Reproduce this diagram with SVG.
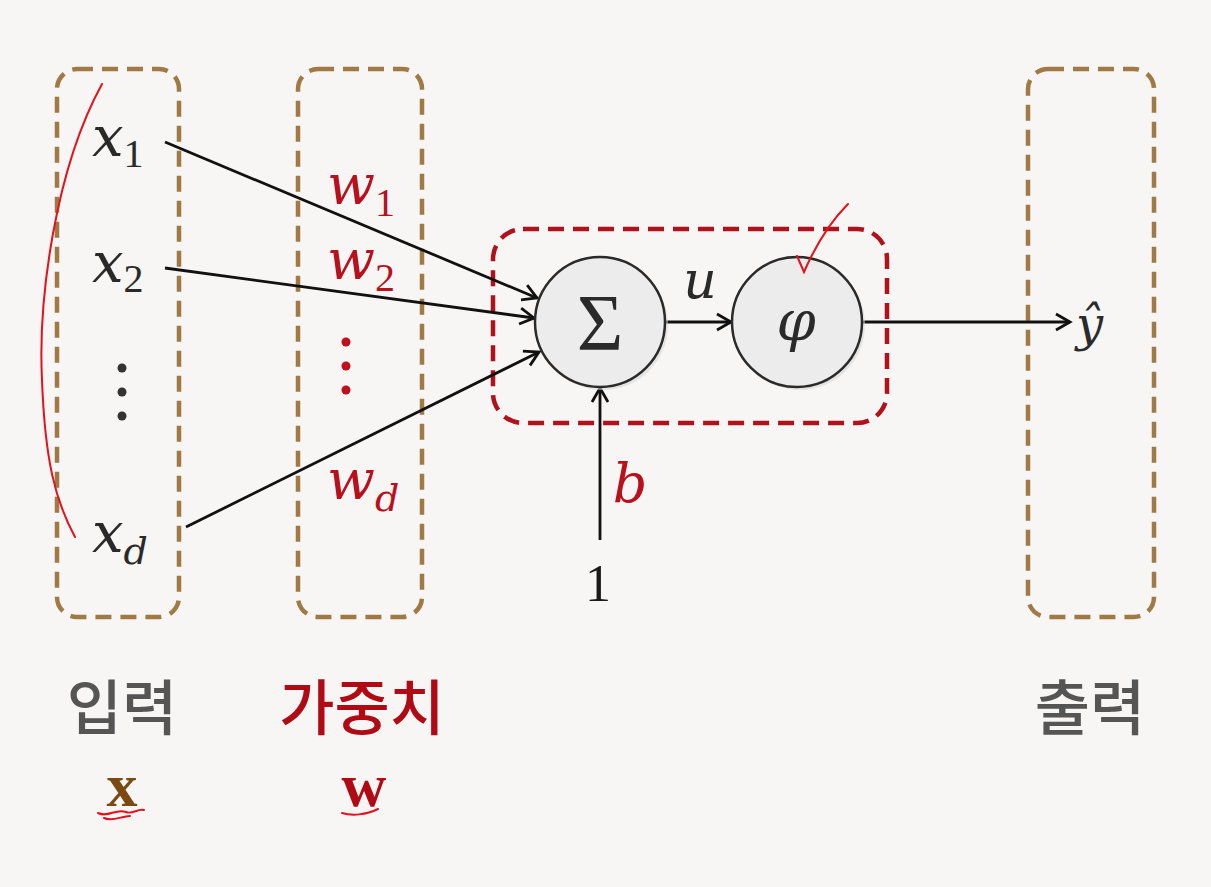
<svg xmlns="http://www.w3.org/2000/svg" width="1211" height="887" viewBox="0 0 1211 887">
<style>
.bg{fill:#f7f6f4}
.box{fill:none;stroke:#a07a45;stroke-width:4.5;stroke-dasharray:16 9}
.rbox{fill:none;stroke:#b0121c;stroke-width:4.5;stroke-dasharray:16 9}
.math{font-family:"DejaVu Serif","Liberation Serif",serif;font-style:italic;fill:#2a2a2a}
.rmath{font-family:"DejaVu Serif","Liberation Serif",serif;font-style:italic;fill:#b8101c}
.num{font-family:"Liberation Serif","DejaVu Serif",serif;font-style:normal}
.edge{stroke:#111;stroke-width:2.8;fill:none}
.node{fill:#ececec;stroke:#2a2a2a;stroke-width:2.5}
.ko{font-family:"Noto Sans CJK KR",sans-serif;font-size:60px;font-weight:500;text-anchor:middle}
.ink{fill:none;stroke:#e4101c;stroke-width:2;stroke-linecap:round}
</style>
<defs>
<marker id="arr" markerUnits="userSpaceOnUse" markerWidth="24" markerHeight="24" refX="18" refY="12" orient="auto" viewBox="0 0 24 24">
<path d="M4,4 L18,12 L4,20" fill="none" stroke="#111" stroke-width="2.8" stroke-linejoin="miter"/>
</marker>
</defs>
<rect class="bg" x="0" y="0" width="1211" height="887"/>

<g id="input-box"><rect class="box" x="57" y="69" width="122" height="548" rx="20"/></g>
<g id="weight-box"><rect class="box" x="298" y="69" width="124" height="548" rx="20"/></g>
<g id="output-box"><rect class="box" x="1028" y="69" width="126" height="548" rx="20"/></g>
<g id="neuron-box"><rect class="rbox" x="493" y="229" width="394" height="194" rx="30"/></g>

<g id="connectors">
<line class="edge" x1="165" y1="142" x2="537" y2="298" marker-end="url(#arr)"/>
<line class="edge" x1="165" y1="268" x2="534" y2="318" marker-end="url(#arr)"/>
<line class="edge" x1="186" y1="527" x2="539" y2="352" marker-end="url(#arr)"/>
<line class="edge" x1="665" y1="322" x2="731" y2="322" marker-end="url(#arr)"/>
<line class="edge" x1="862" y1="322" x2="1070" y2="322" marker-end="url(#arr)"/>
<line class="edge" x1="600" y1="540" x2="600" y2="388" marker-end="url(#arr)"/>
</g>

<g id="sum-node">
<circle cx="603" cy="325" r="65" fill="#d8d8d8" opacity="0.6"/>
<circle class="node" cx="600" cy="322" r="65"/>
<text x="600" y="350" font-family="Liberation Serif,serif" font-size="80" fill="#2a2a2a" text-anchor="middle">Σ</text>
</g>
<g id="phi-node">
<circle cx="800" cy="325" r="65" fill="#d8d8d8" opacity="0.6"/>
<circle class="node" cx="797" cy="322" r="65"/>
<text class="math" x="796" y="340" font-size="56" text-anchor="middle">φ</text>
</g>

<g id="inputs">
<text class="math" x="92" y="156" font-size="56">x<tspan class="num" font-size="40" dy="11">1</tspan></text>
<text class="math" x="92" y="282" font-size="56">x<tspan class="num" font-size="40" dy="10">2</tspan></text>
<circle cx="122" cy="368" r="4.5" fill="#333"/>
<circle cx="122" cy="392" r="4.5" fill="#333"/>
<circle cx="122" cy="416" r="4.5" fill="#333"/>
<text class="math" x="92" y="552" font-size="56">x<tspan font-size="38" dy="12">d</tspan></text>
</g>

<g id="weights">
<text class="rmath" x="327" y="204" font-size="56">w<tspan class="num" font-size="40" dy="12">1</tspan></text>
<text class="rmath" x="327" y="279" font-size="56">w<tspan class="num" font-size="40" dy="12">2</tspan></text>
<circle cx="346" cy="342" r="4.5" fill="#c0101c"/>
<circle cx="346" cy="366" r="4.5" fill="#c0101c"/>
<circle cx="346" cy="390" r="4.5" fill="#c0101c"/>
<text class="rmath" x="327" y="499" font-size="56">w<tspan font-size="38" dy="12">d</tspan></text>
</g>

<g id="labels">
<text class="math" x="700" y="298" font-size="52" text-anchor="middle">u</text>
<text class="rmath" x="630" y="502" font-size="54" text-anchor="middle">b</text>
<text class="num" x="598" y="601" font-size="52" fill="#1a1a1a" text-anchor="middle">1</text>
<text class="math" x="1076" y="341" font-size="48">ŷ</text>
</g>

<g id="captions">
<text class="ko" x="122" y="730" fill="#555555">입력</text>
<text class="ko" x="362" y="730" fill="#b00a14">가중치</text>
<text class="ko" x="1090" y="730" fill="#555555">출력</text>
<text x="122" y="806" font-family="Liberation Serif,serif" font-weight="bold" font-size="62" fill="#7b4a12" text-anchor="middle">x</text>
<text x="364" y="806" font-family="Liberation Serif,serif" font-weight="bold" font-size="62" fill="#b00a14" text-anchor="middle">w</text>
</g>

<g id="annotations">
<path class="ink" d="M102,84 C55,170 38,300 42,380 C45,460 55,500 75,537"/>
<path class="ink" d="M797,256 L804,272 C818,240 832,220 848,204" stroke-width="3"/>
<path class="ink" d="M98,813 C108,818 116,808 126,812 C132,815 138,808 144,810 M104,818 C112,822 122,816 130,816" stroke-width="2.5"/>
<path class="ink" d="M342,813 C352,816 366,815 378,809" stroke-width="2.5"/>
</g>
</svg>
